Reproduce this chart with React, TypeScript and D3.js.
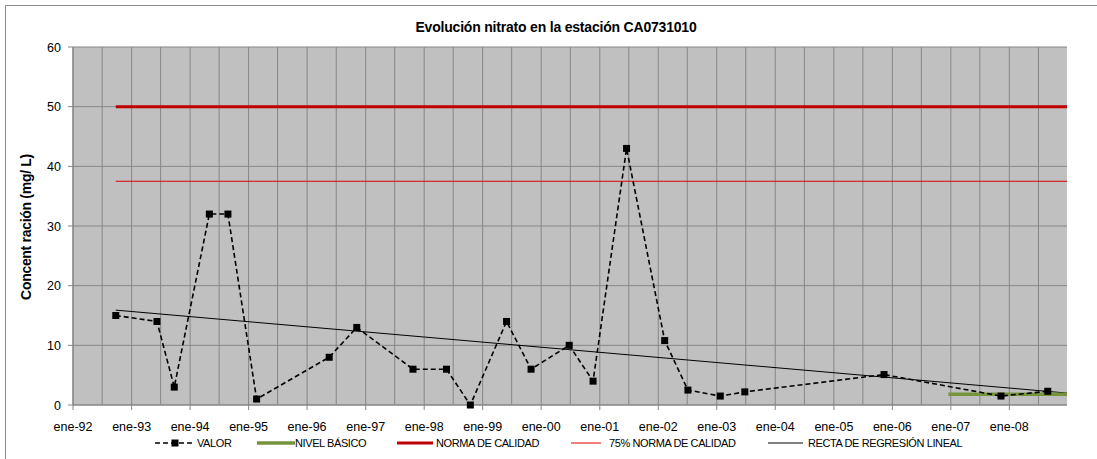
import React from 'react';
import * as d3 from 'd3';

const sampleDates = [
  '1992-09-24', '1993-06-08', '1993-09-24', '1994-05-01', '1994-08-25', '1995-02-20',
  '1996-05-18', '1996-11-06', '1997-10-23', '1998-05-20', '1998-10-16', '1999-05-30',
  '1999-10-30', '2000-06-24', '2000-11-20', '2001-06-17', '2002-02-10', '2002-07-05',
  '2003-01-23', '2003-06-25', '2005-11-10', '2007-11-10', '2008-08-28',
];
const sampleValues = [15, 14, 3, 32, 32, 1, 8, 13, 6, 6, 0, 14, 6, 10, 4, 43, 10.8, 2.5, 1.5, 2.2, 5.1, 1.5, 2.3];

const normaDates = ['1992-09-24', '2008-12-26'];
const normaValue = 50;
const norma75Value = 37.5;
const basicoDates = ['2006-12-17', '2008-12-26'];
const basicoValue = 1.8;
const regresionDates = ['1992-09-24', '2008-12-26'];
const regresionValues = [15.9, 2.0];

const yTicks = [0, 10, 20, 30, 40, 50, 60];
const legendLabels = ['VALOR', 'NIVEL BÁSICO', 'NORMA DE CALIDAD', '75% NORMA DE CALIDAD', 'RECTA DE REGRESIÓN LINEAL'];

const parse = d3.timeParse('%Y-%m-%d');
const months = ['ene', 'feb', 'mar', 'abr', 'may', 'jun', 'jul', 'ago', 'sep', 'oct', 'nov', 'dic'];
const fmt = (d: Date) => `${months[d.getMonth()]}-${d3.timeFormat('%y')(d)}`;

const W = 1097;
const H = 459;
const margin = { left: 73, top: 47, right: 30, bottom: 54 };
const font = '"Liberation Sans", Arial, sans-serif';

export default function App() {
  const x = d3.scaleTime()
    .domain([parse('1992-01-01')!, parse('2008-12-26')!])
    .range([margin.left, W - margin.right]);
  const y = d3.scaleLinear().domain([0, 60]).range([H - margin.bottom, margin.top]);

  const data = sampleDates.map((d, i) => ({ date: parse(d)!, value: sampleValues[i] }));
  const line = d3.line<{ date: Date; value: number }>().x(d => x(d.date)).y(d => y(d.value));

  const halfYears = d3.timeMonth.every(6)!.range(x.domain()[0], x.domain()[1]);
  const years = d3.timeYear.range(x.domain()[0], x.domain()[1]);
  const [x0, x1] = x.range();
  const [yb, yt] = y.range();

  const regData = regresionDates.map((d, i) => ({ date: parse(d)!, value: regresionValues[i] }));

  // legend sample start, text start
  const legendPos = [[155, 197], [257, 295], [397, 436], [571, 609], [768, 808]];
  const ly = 443;

  return (
    <div style={{ position: 'absolute', left: 0, top: 0 }}>
      <svg width={W} height={H} style={{ display: 'block', fontFamily: font }}>
        <rect x={0} y={0} width={W} height={H} fill="#fff" />
        <rect x={5.5} y={5.5} width={W + 10} height={H + 10} fill="none" stroke="#8c8c8c" strokeWidth={1} />
        <text x={556} y={32} textAnchor="middle" fontSize={14} fontWeight="bold" letterSpacing={-0.2}>
          Evolución nitrato en la estación CA0731010
        </text>
        <rect x={x0} y={yt} width={x1 - x0} height={yb - yt} fill="#c0c0c0" />
        {halfYears.map((d, i) => (
          <line key={'v' + i} x1={x(d)} x2={x(d)} y1={yt} y2={yb} stroke="#868686" strokeWidth={1} />
        ))}
        {yTicks.map(t => (
          <line key={'h' + t} x1={x0} x2={x1} y1={y(t)} y2={y(t)} stroke="#868686" strokeWidth={1} />
        ))}
        {/* axes */}
        <line x1={x0} x2={x0} y1={yt} y2={yb} stroke="#868686" strokeWidth={1.2} />
        <line x1={x0} x2={x1} y1={yb} y2={yb} stroke="#868686" strokeWidth={1.2} />
        {yTicks.map(t => (
          <g key={'yt' + t}>
            <line x1={x0 - 5} x2={x0} y1={y(t)} y2={y(t)} stroke="#868686" />
            <text x={x0 - 12} y={y(t) + 4.5} textAnchor="end" fontSize={12.5}>{t}</text>
          </g>
        ))}
        {years.map((d, i) => (
          <g key={'xt' + i}>
            <line x1={x(d)} x2={x(d)} y1={yb} y2={yb + 5} stroke="#868686" />
            <text x={x(d)} y={yb + 26} textAnchor="middle" fontSize={12.5}>{fmt(d)}</text>
          </g>
        ))}
        <text transform={`translate(31,${(yt + yb) / 2 + 1}) rotate(-90)`} textAnchor="middle" fontSize={14} fontWeight="bold" letterSpacing={-0.3}>
          Concent ración (mg/ L)
        </text>

        {/* reference lines */}
        <line x1={x(parse(normaDates[0])!)} x2={x(parse(normaDates[1])!)} y1={y(normaValue)} y2={y(normaValue)} stroke="#c00000" strokeWidth={3} />
        <line x1={x(parse(normaDates[0])!)} x2={x(parse(normaDates[1])!)} y1={y(norma75Value)} y2={y(norma75Value)} stroke="#e00000" strokeWidth={1} />
        <path d={line(regData)!} fill="none" stroke="#000" strokeWidth={1} />
        <line x1={x(parse(basicoDates[0])!)} x2={x(parse(basicoDates[1])!)} y1={y(basicoValue)} y2={y(basicoValue)} stroke="#77933c" strokeWidth={3.5} />

        {/* data */}
        <path d={line(data)!} fill="none" stroke="#000" strokeWidth={1.6} strokeDasharray="5,3" />
        {data.map((d, i) => (
          <rect key={'p' + i} x={x(d.date) - 3.5} y={y(d.value) - 3.5} width={7} height={7} fill="#000" />
        ))}

        {/* legend */}
        <g fontSize={11} letterSpacing={-0.4}>
          <line x1={legendPos[0][0]} x2={legendPos[0][1] - 2} y1={ly} y2={ly} stroke="#000" strokeWidth={1.6} strokeDasharray="5,3" />
          <rect x={(legendPos[0][0] + legendPos[0][1]) / 2 - 4.5} y={ly - 3.5} width={7} height={7} fill="#000" />
          <line x1={legendPos[1][0]} x2={legendPos[1][1]} y1={ly} y2={ly} stroke="#77933c" strokeWidth={3.5} />
          <line x1={legendPos[2][0]} x2={legendPos[2][1] - 3} y1={ly} y2={ly} stroke="#c00000" strokeWidth={3} />
          <line x1={legendPos[3][0]} x2={legendPos[3][1] - 8} y1={ly} y2={ly} stroke="#e00000" strokeWidth={1} />
          <line x1={legendPos[4][0]} x2={legendPos[4][1] - 5} y1={ly} y2={ly} stroke="#000" strokeWidth={1} />
          {legendLabels.map((l, i) => (
            <text key={l} x={legendPos[i][1]} y={ly + 4}>{l}</text>
          ))}
        </g>
      </svg>
    </div>
  );
}
